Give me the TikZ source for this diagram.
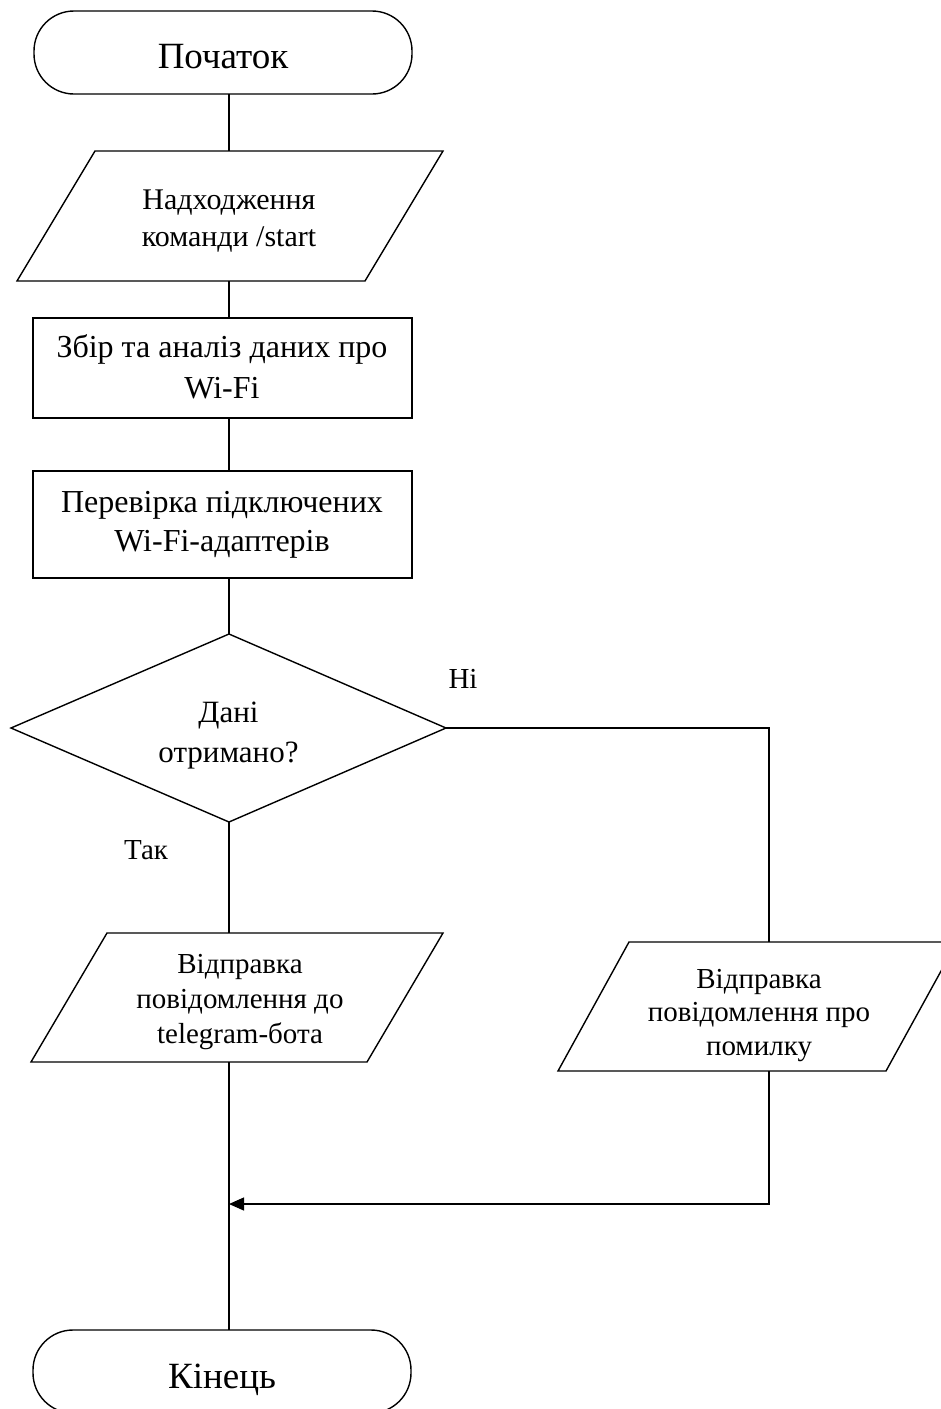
\documentclass[tikz,border=0pt]{standalone}
\usepackage{fontspec}
\setmainfont{Liberation Serif}
\usetikzlibrary{arrows.meta}
\tikzset{
  shp/.style={draw=black, line width=1.4pt, line join=miter},
  conn/.style={draw=black, line width=1.3pt},
  txt/.style={inner sep=0pt, align=center, text=black},
  termfont/.style={font=\fontsize{37}{44}\selectfont},
  boxfont/.style={font=\fontsize{32}{41}\selectfont},
  iofont/.style={font=\fontsize{30}{37}\selectfont},
  lblfont/.style={font=\fontsize{29}{34}\selectfont},
}
\begin{document}
\begin{tikzpicture}[x=1pt,y=-1pt]
\useasboundingbox (0,0) rectangle (941,1409);
\clip (0,0) rectangle (941,1409);
\fill[white] (0,0) rectangle (941,1409);

% Start terminal
\draw[shp, rounded corners=40pt] (34,11) rectangle (412,94);
\node[txt, termfont, anchor=base] (start) at (223,68) {Початок};
\coordinate (start-b) at (229,94);

% Input: command /start
\draw[shp] (95,151) -- (443,151) -- (365,281) -- (17,281) -- cycle;
\node[txt, iofont] (cmd) at (229,221) {\strut Надходження\\\strut команди /start};
\coordinate (cmd-t) at (229,151);
\coordinate (cmd-b) at (229,281);

% Process 1
\draw[shp] (33,318) rectangle (412,418);
\node[txt, boxfont] (collect) at (222,370) {\strut Збір та аналіз даних про\\\strut Wi-Fi};
\coordinate (collect-t) at (229,318);
\coordinate (collect-b) at (229,418);

% Process 2
\draw[shp] (33,471) rectangle (412,578);
\node[txt, font=\fontsize{32}{39}\selectfont] (check) at (222,523.7) {\strut Перевірка підключених\\\strut Wi-Fi-адаптерів};
\coordinate (check-t) at (229,471);
\coordinate (check-b) at (229,578);

% Decision
\draw[shp] (229,634) -- (446,728) -- (229,822) -- (11,728) -- cycle;
\node[txt, font=\fontsize{31}{40}\selectfont] (dec) at (228.5,734) {\strut Дані\\\strut отримано?};
\coordinate (dec-t) at (229,634);
\coordinate (dec-r) at (446,728);
\coordinate (dec-b) at (229,822);
\coordinate (no-turn) at (769,728);

\node[txt, lblfont, anchor=base] (no) at (463,688) {Ні};
\node[txt, lblfont, anchor=base] (yes) at (146,859) {Так};

% Output: message to bot
\draw[shp] (107,933) -- (443,933) -- (367,1062) -- (31,1062) -- cycle;
\node[txt, font=\fontsize{29}{35}\selectfont] (sendok) at (240,1001) {\strut Відправка\\\strut повідомлення до\\\strut telegram-бота};
\coordinate (sendok-t) at (229,933);
\coordinate (sendok-b) at (229,1062);

% Output: error message
\draw[shp] (629,942) -- (957,942) -- (886,1071) -- (558,1071) -- cycle;
\node[txt, font=\fontsize{29}{33.5}\selectfont] (senderr) at (759,1015) {\strut Відправка\\\strut повідомлення про\\\strut помилку};
\coordinate (senderr-t) at (769,942);
\coordinate (senderr-b) at (769,1071);
\coordinate (err-turn) at (769,1204);
\coordinate (join) at (229,1204);

% End terminal
\draw[shp, rounded corners=40pt] (33,1330) rectangle (411,1413);
\node[txt, termfont, anchor=base] (end) at (222,1388) {Кінець};
\coordinate (end-t) at (229,1330);

% Connectors
\draw[conn] (start-b) -- (cmd-t);
\draw[conn] (cmd-b) -- (collect-t);
\draw[conn] (collect-b) -- (check-t);
\draw[conn] (check-b) -- (dec-t);
\draw[conn] (dec-r) -- (no-turn) -- (senderr-t);
\draw[conn] (dec-b) -- (sendok-t);
\draw[conn] (sendok-b) -- (end-t);
\draw[conn, -{Triangle[length=15pt,width=13pt]}] (senderr-b) -- (err-turn) -- (join);
\end{tikzpicture}
\end{document}
